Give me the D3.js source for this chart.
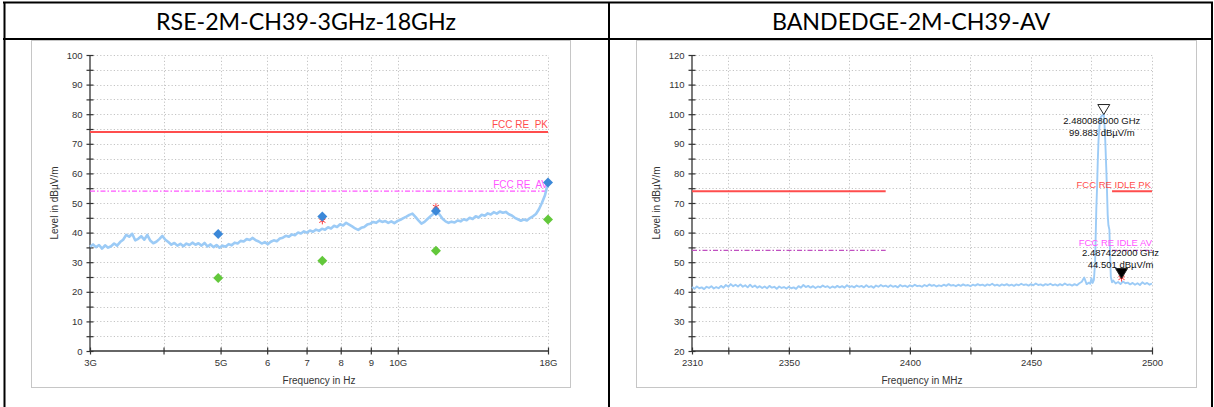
<!DOCTYPE html>
<html>
<head>
<meta charset="utf-8">
<script src="https://cdn.jsdelivr.net/npm/d3@7"></script>
<style>
  html, body { margin: 0; padding: 0; background: #fff; }
  svg { display: block; }
  text { font-family: "Liberation Sans", Arial, sans-serif; }
</style>
</head>
<body>
<svg id="page" width="1214" height="407"></svg>
<script>
// ---------- RSE 3 GHz - 18 GHz (left panel) ----------
const rseTitle = "RSE-2M-CH39-3GHz-18GHz";
const rseTickValues = [3e9, 4e9, 5e9, 6e9, 7e9, 8e9, 9e9, 10e9, 18e9];
const rseTickLabels = ["3G", "", "5G", "6", "7", "8", "9", "10G", "18G"];
// Sweep: log-spaced points between 3 GHz and 18 GHz
const rseSweepStart = 3e9, rseSweepStop = 18e9;
const rseTrace = [
  35.2, 36.0, 35.1, 35.8, 34.6, 35.7, 34.9, 35.4, 36.3, 35.6,
  36.8, 37.6, 39.2, 38.6, 39.6, 37.4, 37.9, 38.8, 37.6, 39.2,
  37.3, 36.4, 36.9, 37.8, 38.9, 37.6, 36.8, 35.9, 36.5, 35.6,
  36.2, 35.4, 36.3, 35.8, 36.6, 35.9, 36.4, 35.6, 36.5, 35.3,
  36.0, 35.1, 35.8, 34.9, 35.6, 35.2, 36.1, 35.7, 36.6, 36.3,
  37.2, 37.0, 37.8, 37.5, 38.2, 37.4, 37.0, 36.3, 36.8, 36.1,
  36.9, 37.4, 37.1, 38.0, 38.3, 38.9, 38.6, 39.4, 39.1, 40.0,
  39.7, 40.4, 40.0, 40.7, 40.3, 41.0, 40.6, 41.3, 41.0, 41.8,
  41.4, 42.3, 41.9, 42.8, 42.4, 43.3, 42.7, 42.1, 41.4, 40.9,
  41.6, 41.9, 42.7, 43.0, 43.6, 43.3, 44.1, 43.6, 43.9, 43.3,
  43.8, 43.2, 43.9, 44.3, 44.9, 45.4, 46.0, 46.4, 45.3, 44.1,
  43.0, 43.6, 44.6, 45.5, 46.4, 46.9, 46.1, 44.7, 43.8, 43.3,
  43.7, 43.4, 44.1, 43.8, 44.5, 44.2, 45.0, 44.6, 45.5, 45.1,
  46.0, 45.7, 46.5, 46.1, 46.9, 46.4, 47.1, 46.7, 47.0, 46.2,
  45.8, 45.0, 44.5, 44.0, 44.4, 44.1, 44.9, 45.5, 46.3, 47.9,
  50.1, 52.6, 56.8
];
const rseFinalFreq = [4.954e9, 7.445e9, 11.61e9, 18e9];
const rsePeak = [39.5, 45.4, 47.3, 56.9];
const rseAverage = [24.7, 30.5, 33.9, 44.4];
const rseCheckFreq = [7.445e9, 11.61e9];
const rseCheckLevel = [44.0, 48.7];
const rseLimitPk = 74, rseLimitAv = 54;

// ---------- Band edge 2310 - 2500 MHz (right panel) ----------
const beTitle = "BANDEDGE-2M-CH39-AV";
const beTickValues = [2310, 2325, 2350, 2375, 2400, 2425, 2450, 2475, 2500];
const beTickLabels = ["2310", "", "2350", "", "2400", "", "2450", "", "2500"];
// 1 MHz steps 2310..2474
const beFloor = [
  41.6, 41.0, 41.8, 41.2, 41.5, 40.9, 41.7, 41.3, 41.9, 41.1,
  41.6, 41.2, 42.0, 41.4, 42.3, 41.7, 42.6, 41.9, 42.4, 41.8,
  42.5, 41.7, 42.2, 41.5, 42.4, 41.6, 42.1, 41.4, 41.9, 41.3,
  41.8, 41.2, 42.0, 41.4, 41.7, 41.0, 41.8, 41.3, 41.6, 41.1,
  41.7, 41.2, 41.5, 41.0, 41.9, 41.4, 42.3, 41.6, 42.0, 41.4,
  41.9, 41.3, 41.8, 41.5, 42.1, 41.6, 41.9, 41.3, 41.8, 41.4,
  42.0, 41.5, 41.9, 41.4, 42.2, 41.6, 41.9, 41.5, 42.1, 41.7,
  42.0, 41.5, 42.2, 41.6, 41.9, 41.4, 42.1, 41.7, 42.3, 41.8,
  42.1, 41.6, 42.2, 41.7, 42.0, 41.5, 42.3, 41.8, 42.1, 41.6,
  42.2, 41.8, 42.4, 41.9, 42.1, 41.7, 42.3, 41.9, 42.5, 42.0,
  42.3, 41.8, 42.2, 41.9, 42.4, 42.0, 42.6, 42.1, 42.3, 41.9,
  42.4, 42.0, 42.5, 42.1, 42.3, 41.9, 42.4, 42.1, 42.6, 42.2,
  42.4, 42.0, 42.5, 42.2, 42.7, 42.1, 42.4, 42.0, 42.5, 42.2,
  42.6, 42.1, 42.4, 42.0, 42.5, 42.2, 42.7, 42.3, 42.5, 42.1,
  42.6, 42.2, 42.8, 42.3, 42.5, 42.1, 42.6, 42.3, 42.7, 42.2,
  42.5, 42.1, 42.6, 42.2, 42.8, 42.3, 42.5, 42.1, 42.6, 42.2,
  42.9, 43.4, 44.8, 42.6, 43.1
];
const beFloorStart = 2310;
// carrier region, finer steps
const beCarrierMHz = [2474.5, 2475.0, 2475.5, 2476.0, 2476.5, 2477.0, 2477.3, 2477.6, 2477.9, 2478.3,
  2478.7, 2479.2, 2479.6, 2480.088, 2480.4, 2480.7, 2481.1, 2481.4, 2481.7, 2482.0,
  2482.4, 2482.7, 2483.0, 2483.5, 2484.0];
const beCarrierLevel = [42.7, 44.6, 43.0, 44.0, 50.0, 68.0, 75.0, 84.0, 91.0, 96.0,
  98.8, 99.4, 99.7, 99.883, 96.0, 91.0, 82.0, 74.5, 66.0, 62.5,
  61.0, 52.0, 45.0, 43.2, 43.8];
// 1 MHz steps 2485..2500
const beTail = [42.8, 43.3, 42.6, 43.5, 42.9, 43.1, 42.5, 43.0, 42.4, 42.9, 42.3, 43.2, 42.6, 43.0, 42.4, 42.8];
const beTailStart = 2485;
const beMarkerMHz = [2480.088, 2487.422];
const beMarkerLevel = [99.883, 44.501];
const beMarkerText = [["2.480088000 GHz", "99.883 dBµV/m"], ["2.487422000 GHz", "44.501 dBµV/m"]];
const beLimitRanges = [[2310, 2390], [2483.5, 2500]];
const beLimitPk = 74, beLimitAv = 54;

// ---------- drawing ----------
const svg = d3.select("#page");
svg.append("rect").attr("width", 1214).attr("height", 407).attr("fill", "#fff");

const C = {
  trace: "#9ccbf6", axis: "#333", grid: "#c4c4c4", text: "#333",
  pk: "#ff4d4d", av: "#ff55ff", blue: "#3b88d8", green: "#63c83b"
};

function panelFrame(x0, x1) {
  svg.append("rect").attr("x", x0 + 0.5).attr("y", 40.5).attr("width", x1 - x0).attr("height", 347)
    .attr("fill", "#fff").attr("stroke", "#c6c6c6").attr("stroke-width", 1);
}
panelFrame(31, 570);
panelFrame(636, 1196);

function drawAxes(g, x, y, yTicks, xTicks, xLabels, yTitle, xTitle) {
  const [xa, xb] = x.range();
  const [ya, yb] = y.range(); // ya bottom, yb top
  // grid
  const grid = g.append("g").attr("stroke", C.grid).attr("stroke-dasharray", "1.2,2.2").attr("stroke-width", 1);
  yTicks.forEach(v => {
    if (v === y.domain()[0]) return;
    grid.append("line").attr("x1", xa).attr("x2", xb).attr("y1", Math.round(y(v)) + 0.5).attr("y2", Math.round(y(v)) + 0.5);
  });
  xTicks.forEach(v => {
    if (Math.abs(x(v) - xa) < 1) return;
    grid.append("line").attr("x1", Math.round(x(v)) + 0.5).attr("x2", Math.round(x(v)) + 0.5).attr("y1", ya).attr("y2", yb);
  });
  // y axis
  const ay = g.append("g").attr("transform", `translate(${xa},0)`)
    .call(d3.axisLeft(y).tickValues(yTicks).tickSize(3.5).tickPadding(4)
      .tickFormat(d => (d % 10 === 0 ? d : "")));
  ay.selectAll(".tick line").attr("x1", -3.5).attr("x2", 3.5).attr("stroke", C.axis).attr("stroke-width", 1.2);
  ay.selectAll(".tick text").attr("fill", C.text).style("font-size", "9.5px");
  // x axis
  const ax = g.append("g").attr("transform", `translate(0,${ya})`)
    .call(d3.axisBottom(x).tickValues(xTicks).tickSize(3.5).tickPadding(5)
      .tickFormat((d, i) => xLabels[i]));
  ax.selectAll(".tick line").attr("y1", -3.5).attr("y2", 3.5).attr("stroke", C.axis).attr("stroke-width", 1.2);
  ax.selectAll(".tick text").attr("fill", C.text).style("font-size", "9.5px");
  g.selectAll(".domain").remove();
  g.append("line").attr("x1", xa).attr("x2", xa).attr("y1", ya).attr("y2", yb).attr("stroke", C.axis).attr("stroke-width", 1.3);
  g.append("line").attr("x1", xa).attr("x2", xb).attr("y1", ya).attr("y2", ya).attr("stroke", C.axis).attr("stroke-width", 1.3);
  // titles
  g.append("text").attr("transform", `translate(${xa - 32},${(ya + yb) / 2}) rotate(-90)`)
    .attr("text-anchor", "middle").attr("fill", C.text).style("font-size", "10px").text(yTitle);
  g.append("text").attr("x", (xa + xb) / 2).attr("y", ya + 33)
    .attr("text-anchor", "middle").attr("fill", C.text).style("font-size", "10px").text(xTitle);
}

function asterisk(g, px, py) {
  g.append("path").attr("d", d3.symbol(d3.symbolAsterisk, 36)())
    .attr("transform", `translate(${px},${py})`)
    .attr("fill", "none").attr("stroke", "#ff3b3b").attr("stroke-width", 1);
}

// ----- left panel -----
{
  const g = svg.append("g");
  const x = d3.scaleLog().domain([rseSweepStart, rseSweepStop]).range([90, 548]);
  const y = d3.scaleLinear().domain([0, 100]).range([351, 55]);
  drawAxes(g, x, y, d3.range(0, 101, 5), rseTickValues, rseTickLabels, "Level in dBµV/m", "Frequency in Hz");

  // limit lines
  g.append("line").attr("x1", x(rseSweepStart)).attr("x2", x(rseSweepStop))
    .attr("y1", y(rseLimitPk)).attr("y2", y(rseLimitPk)).attr("stroke", C.pk).attr("stroke-width", 2);
  g.append("line").attr("x1", x(rseSweepStart)).attr("x2", x(rseSweepStop))
    .attr("y1", y(rseLimitAv)).attr("y2", y(rseLimitAv)).attr("stroke", C.av).attr("stroke-width", 1.2)
    .attr("stroke-dasharray", "5,2,1.5,2");
  g.append("text").attr("x", x(rseSweepStop)).attr("y", y(rseLimitPk) - 3.5).attr("text-anchor", "end")
    .attr("fill", C.pk).style("font-size", "10px").style("white-space", "pre").text("FCC RE  PK");
  g.append("text").attr("x", x(rseSweepStop)).attr("y", y(rseLimitAv) - 3.5).attr("text-anchor", "end")
    .attr("fill", C.av).style("font-size", "10px").style("white-space", "pre").text("FCC RE  AV");

  // trace
  const n = rseTrace.length;
  const freqs = rseTrace.map((_, i) => rseSweepStart * Math.pow(rseSweepStop / rseSweepStart, i / (n - 1)));
  g.append("path").datum(rseTrace)
    .attr("d", d3.line().x((d, i) => x(freqs[i])).y(d => y(d)))
    .attr("fill", "none").attr("stroke", C.trace).attr("stroke-width", 2.6).attr("stroke-linejoin", "round");

  // final measurement points
  rseCheckFreq.forEach((f, i) => asterisk(g, x(f), y(rseCheckLevel[i])));
  const dia = d3.symbol(d3.symbolSquare, 50)();
  rseFinalFreq.forEach((f, i) => {
    g.append("path").attr("d", dia).attr("fill", C.green)
      .attr("transform", `translate(${x(f)},${y(rseAverage[i])}) rotate(45)`);
    g.append("path").attr("d", dia).attr("fill", C.blue)
      .attr("transform", `translate(${x(f)},${y(rsePeak[i])}) rotate(45)`);
  });
}

// ----- right panel -----
{
  const g = svg.append("g");
  const x = d3.scaleLinear().domain([2310, 2500]).range([692, 1152]);
  const y = d3.scaleLinear().domain([20, 120]).range([351, 55]);
  drawAxes(g, x, y, d3.range(20, 121, 5), beTickValues, beTickLabels, "Level in dBµV/m", "Frequency in MHz");

  beLimitRanges.forEach(([a, b]) => {
    g.append("line").attr("x1", x(a)).attr("x2", x(b)).attr("y1", y(beLimitPk)).attr("y2", y(beLimitPk))
      .attr("stroke", C.pk).attr("stroke-width", 2);
    g.append("line").attr("x1", x(a)).attr("x2", x(b)).attr("y1", y(beLimitAv)).attr("y2", y(beLimitAv))
      .attr("stroke", "#c050c0").attr("stroke-width", 1.1).attr("stroke-dasharray", "5,2,1.5,2");
  });

  // trace
  const pts = [];
  beFloor.forEach((v, i) => pts.push([beFloorStart + i, v]));
  beCarrierMHz.forEach((f, i) => pts.push([f, beCarrierLevel[i]]));
  beTail.forEach((v, i) => pts.push([beTailStart + i, v]));
  g.append("path").datum(pts)
    .attr("d", d3.line().x(d => x(d[0])).y(d => y(d[1])))
    .attr("fill", "none").attr("stroke", C.trace).attr("stroke-width", 1.9).attr("stroke-linejoin", "round");

  g.append("text").attr("x", x(2500) - 1).attr("y", y(beLimitPk) - 3).attr("text-anchor", "end")
    .attr("fill", C.pk).style("font-size", "9.5px").text("FCC RE IDLE PK");
  g.append("text").attr("x", x(2500)).attr("y", y(beLimitAv) - 4).attr("text-anchor", "end")
    .attr("fill", C.av).style("font-size", "9.5px").text("FCC RE IDLE AV");

  asterisk(g, x(beMarkerMHz[1]), y(beMarkerLevel[1]) - 0.5);

  // markers: open triangle at the peak, filled triangle at the band-edge reading
  beMarkerMHz.forEach((f, i) => {
    const px = x(f), py = y(beMarkerLevel[i]);
    const p = d3.path();
    p.moveTo(px - 6, py - 10); p.lineTo(px + 6, py - 10); p.lineTo(px, py); p.closePath();
    g.append("path").attr("d", p.toString())
      .attr("fill", i === 0 ? "#fff" : "#000").attr("fill-opacity", i === 0 ? 0 : 1)
      .attr("stroke", "#222").attr("stroke-width", 1);
  });
  // marker readouts
  const r0x = x(beMarkerMHz[0]) - 2;
  g.append("text").attr("x", r0x).attr("y", 124).attr("text-anchor", "middle").attr("fill", "#111")
    .style("font-size", "9.5px").text(beMarkerText[0][0]);
  g.append("text").attr("x", r0x).attr("y", 135.5).attr("text-anchor", "middle").attr("fill", "#111")
    .style("font-size", "9.5px").text(beMarkerText[0][1]);
  const r1x = x(beMarkerMHz[1]) - 1;
  g.append("text").attr("x", r1x).attr("y", y(beMarkerLevel[1]) - 22).attr("text-anchor", "middle").attr("fill", "#111")
    .style("font-size", "9.5px").text(beMarkerText[1][0]);
  g.append("text").attr("x", r1x).attr("y", y(beMarkerLevel[1]) - 10.5).attr("text-anchor", "middle").attr("fill", "#111")
    .style("font-size", "9.5px").text(beMarkerText[1][1]);
}

// ---------- table header ----------
const titleFont = "Lato, 'Open Sans', sans-serif";
const t1 = svg.append("text").attr("x", 306).attr("y", 30).attr("text-anchor", "middle")
  .style("font-family", titleFont).style("font-size", "24px").attr("fill", "#000").text(rseTitle);
const w1 = t1.node().getComputedTextLength();
const titleSize = 24 * 300 / w1;
t1.style("font-size", titleSize + "px");
svg.append("text").attr("x", 911).attr("y", 30).attr("text-anchor", "middle")
  .style("font-family", titleFont).style("font-size", titleSize + "px").attr("fill", "#000").text(beTitle);

const border = svg.append("g").attr("stroke", "#000").attr("stroke-width", 2);
border.append("line").attr("x1", 3).attr("x2", 1213).attr("y1", 2.5).attr("y2", 2.5);
border.append("line").attr("x1", 3).attr("x2", 1213).attr("y1", 39).attr("y2", 39);
border.append("line").attr("x1", 4.5).attr("x2", 4.5).attr("y1", 2).attr("y2", 407);
border.append("line").attr("x1", 609).attr("x2", 609).attr("y1", 2).attr("y2", 407);
border.append("line").attr("x1", 1212).attr("x2", 1212).attr("y1", 2).attr("y2", 407);
</script>
</body>
</html>
